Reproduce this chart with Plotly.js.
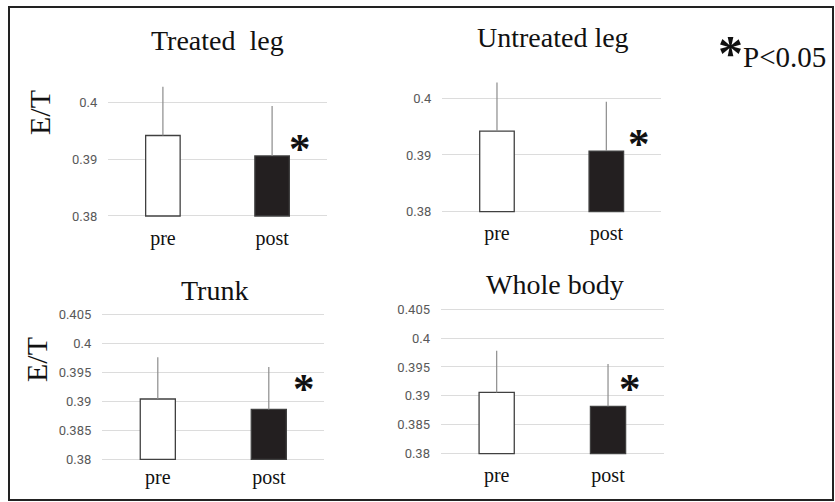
<!DOCTYPE html>
<html>
<head>
<meta charset="utf-8">
<script src="https://cdn.plot.ly/plotly-3.0.1.min.js"></script>
<style>html,body{margin:0;padding:0;background:#fff;}#chart{width:835px;height:502px;}</style>
</head>
<body>
<div id="chart"></div>
<script>
// ---- data ----
const categories = ['pre', 'post'];
const panelTitles = ['Treated  leg', 'Untreated leg', 'Trunk', 'Whole body'];
const treatedMean = [0.3942, 0.3906];
const treatedSD = [0.0086, 0.0088];
const untreatedMean = [0.3942, 0.3907];
const untreatedSD = [0.0086, 0.0087];
const trunkMean = [0.3904, 0.3886];
const trunkSD = [0.0072, 0.0073];
const wholeMean = [0.3906, 0.3882];
const wholeSD = [0.0072, 0.0073];
const topTickVals = [0.38, 0.39, 0.4];
const topTickText = ['0.38', '0.39', '0.4'];
const bottomTickVals = [0.38, 0.385, 0.39, 0.395, 0.4, 0.405];
const bottomTickText = ['0.38', '0.385', '0.39', '0.395', '0.4', '0.405'];
const yLabel = 'E/T';
const sigMark = '*';
const legendText = 'P<0.05';
const axisBase = 0.38;

// ---- layout helpers (pixel geometry) ----
const W = 835, H = 502;
const px = x => x / W;
const py = y => 1 - y / H;
const yRange = [0.3797, 0.4053];
function yDomain(p0, k) { // p0: pixel of 0.38, k: px per 0.01
  const bottom = p0 + (axisBase - yRange[0]) * k * 100;
  const top = p0 - (yRange[1] - axisBase) * k * 100;
  return [py(bottom), py(top)];
}
const panels = [
  {mean: treatedMean, sd: treatedSD, xd: [px(108.3), px(326.7)], yd: yDomain(216, 56.7), tv: topTickVals, tt: topTickText, so: 6},
  {mean: untreatedMean, sd: untreatedSD, xd: [px(442.3), px(661)], yd: yDomain(211.7, 56.7), tv: topTickVals, tt: topTickText, so: 6},
  {mean: trunkMean, sd: trunkSD, xd: [px(102.3), px(324.3)], yd: yDomain(459.3, 58), tv: bottomTickVals, tt: bottomTickText, so: 2},
  {mean: wholeMean, sd: wholeSD, xd: [px(441), px(663.7)], yd: yDomain(453.7, 57.8), tv: bottomTickVals, tt: bottomTickText, so: 6}
];

const traces = [];
const layout = {
  width: W, height: H,
  margin: {l: 0, r: 0, t: 0, b: 0},
  paper_bgcolor: '#ffffff', plot_bgcolor: '#ffffff',
  showlegend: false,
  bargap: 0.684,
  annotations: [], shapes: []
};

panels.forEach((p, i) => {
  const n = i + 1;
  const xa = n === 1 ? 'x' : 'x' + n;
  const ya = n === 1 ? 'y' : 'y' + n;
  traces.push({
    type: 'bar', x: categories,
    y: p.mean.map(v => v - axisBase), base: axisBase,
    xaxis: xa, yaxis: ya,
    marker: {color: ['#ffffff', '#231f20'], line: {color: '#404040', width: 1.3}},
    error_y: {type: 'data', symmetric: false, array: p.sd, arrayminus: [0, 0],
      color: '#8c8c8c', thickness: 1.2, width: 0},
    hoverinfo: 'skip'
  });
  layout['xaxis' + (n === 1 ? '' : n)] = {
    domain: p.xd, anchor: ya, type: 'category', range: [-0.5, 1.5],
    showgrid: false, showline: false, zeroline: false, ticks: '',
    tickfont: {family: 'Liberation Serif', size: 20, color: '#111111'},
    ticklabelstandoff: p.so, fixedrange: true
  };
  layout['yaxis' + (n === 1 ? '' : n)] = {
    domain: p.yd, anchor: xa, range: yRange,
    tickmode: 'array', tickvals: p.tv, ticktext: p.tt,
    showgrid: true, gridcolor: '#dcdcdc', gridwidth: 1,
    showline: false, zeroline: false, ticks: '',
    tickfont: {family: 'Roboto', size: 13, color: '#595959'},
    ticklabelstandoff: 10, fixedrange: true
  };
});

const titlePos = [[217.3, 40], [552.5, 37], [214, 290], [554.7, 284]];
panelTitles.forEach((t, i) => {
  layout.annotations.push({text: t, xref: 'paper', yref: 'paper',
    x: px(titlePos[i][0]), y: py(titlePos[i][1]), xanchor: 'center', yanchor: 'middle',
    showarrow: false, font: {family: 'Liberation Serif', size: 28, color: '#111111'}});
});
[[39, 113], [36, 360]].forEach(pos => {
  layout.annotations.push({text: yLabel, xref: 'paper', yref: 'paper', textangle: -90,
    x: px(pos[0]), y: py(pos[1]), xanchor: 'center', yanchor: 'middle',
    showarrow: false, font: {family: 'Liberation Serif', size: 30, color: '#111111'}});
});
[[300, 141], [639, 136], [304, 380], [630, 380]].forEach(pos => {
  layout.annotations.push({text: '<b>' + sigMark + '</b>', xref: 'paper', yref: 'paper',
    x: px(pos[0]), y: py(pos[1] + 8), xanchor: 'center', yanchor: 'middle',
    showarrow: false, font: {family: 'Liberation Serif', size: 43, color: '#111111'}});
});
layout.annotations.push({text: '<b>' + sigMark + '</b>', xref: 'paper', yref: 'paper',
  x: px(730), y: py(44 + 9), xanchor: 'center', yanchor: 'middle',
  showarrow: false, font: {family: 'Liberation Serif', size: 50, color: '#111111'}});
layout.annotations.push({text: legendText, xref: 'paper', yref: 'paper',
  x: px(741), y: py(57), xanchor: 'left', yanchor: 'middle',
  showarrow: false, font: {family: 'Liberation Serif', size: 29, color: '#111111'}});

layout.shapes.push({type: 'rect', xref: 'paper', yref: 'paper',
  x0: px(9), x1: px(833), y0: py(500), y1: py(7),
  line: {color: '#222222', width: 2}, fillcolor: 'rgba(0,0,0,0)'});

Plotly.newPlot('chart', traces, layout, {staticPlot: true, displayModeBar: false});
</script>
</body>
</html>
